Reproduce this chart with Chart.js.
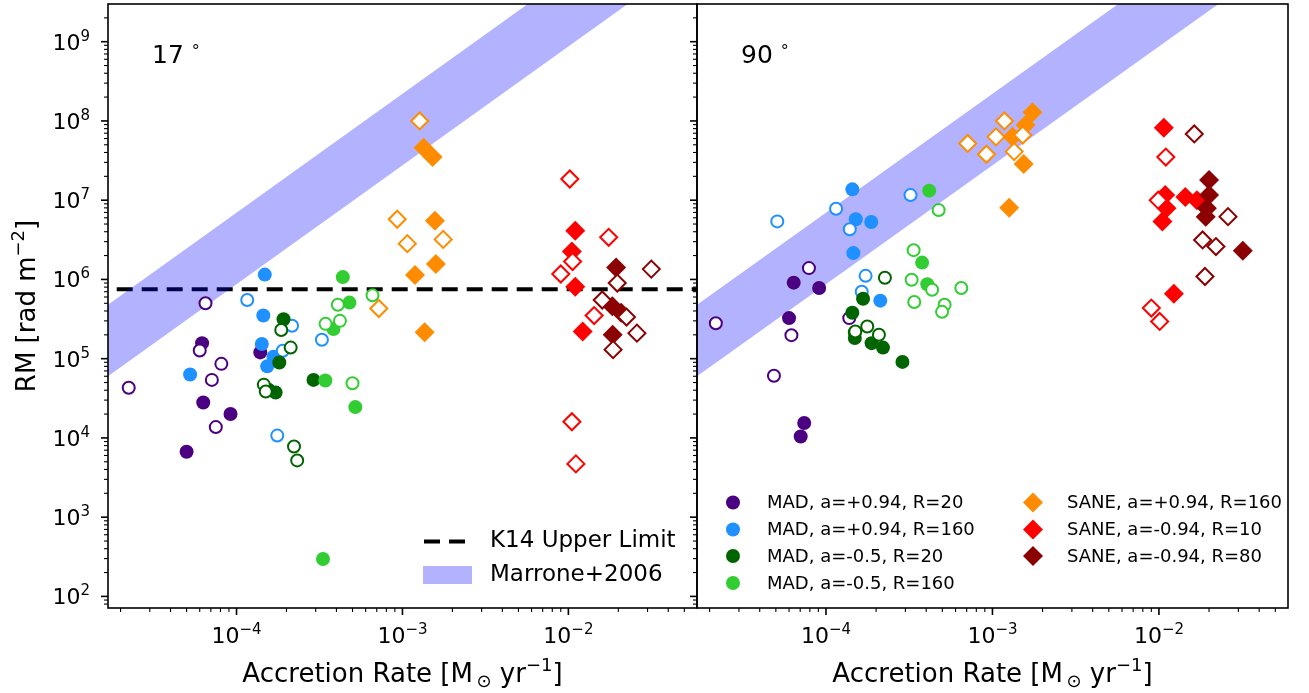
<!DOCTYPE html>
<html>
<head>
<meta charset="utf-8">
<script src="https://cdn.jsdelivr.net/npm/chart.js@4.4.1/dist/chart.umd.min.js"></script>
<style>
  body { margin: 0; background: #fff; width: 1309px; height: 693px; overflow: hidden; position: relative; }
  #c17 { position: absolute; left: 0; top: 0; }
  #c90 { position: absolute; left: 690px; top: 0; }
</style>
</head>
<body>
<canvas id="c17" width="698" height="693"></canvas>
<canvas id="c90" width="619" height="693"></canvas>
<script>
const FONT = '"DejaVu Sans", sans-serif';

// model labels / colours / marker shapes (legend order)
const modelLabels = ['MAD, a=+0.94, R=20', 'MAD, a=+0.94, R=160', 'MAD, a=-0.5, R=20', 'MAD, a=-0.5, R=160',
                     'SANE, a=+0.94, R=160', 'SANE, a=-0.94, R=10', 'SANE, a=-0.94, R=80'];
const modelColors = ['#4B0082', '#1E90FF', '#006400', '#32CD32', '#FF8C00', '#FF0000', '#8B0000'];
const modelShapes = ['circle', 'circle', 'circle', 'circle', 'rectRot', 'rectRot', 'rectRot'];

// axis ranges and tick labels (powers of ten)
const xRange = [1.68e-5, 5.96e-2];
const yRange = [71.4, 2.99e9];
const xTickExps = [-4, -3, -2];
const yTickExps = [2, 3, 4, 5, 6, 7, 8, 9];

// K14 upper limit and Marrone+2006 band edges
const k14Limit = 7.5e5;
const bandX = [1e-5, 1e-1];
const bandLow = [2.75e4, 2.75e10];
const bandHigh = [2.2e5, 2.2e11];

// ---- 17 degrees: [accretion rate, RM], f = filled, o = open ----
const mad1_17f = [[6.2e-5,1.57e5],[1.39e-4,1.2e5],[6.3e-5,2.8e4],[9.2e-5,2.0e4],[5.0e-5,6.7e3]];
const mad1_17o = [[6.5e-5,5.0e5],[6.0e-5,1.27e5],[8.1e-5,8.6e4],[7.1e-5,5.4e4],[2.24e-5,4.3e4],[7.5e-5,1.37e4]];
const mad2_17f = [[1.48e-4,1.15e6],[1.45e-4,3.5e5],[1.42e-4,1.53e5],[1.67e-4,1.06e5],[1.53e-4,8.0e4],[5.25e-5,6.3e4]];
const mad2_17o = [[1.16e-4,5.5e5],[2.16e-4,2.6e5],[1.9e-4,1.26e5],[3.27e-4,1.73e5],[1.76e-4,1.07e4]];
const mad3_17f = [[1.92e-4,3.15e5],[1.81e-4,8.95e4],[2.91e-4,5.4e4],[1.56e-4,4.05e4],[1.72e-4,3.74e4]];
const mad3_17o = [[1.86e-4,2.3e5],[2.12e-4,1.38e5],[1.46e-4,4.7e4],[1.5e-4,3.85e4],[2.22e-4,7.8e3],[2.32e-4,5.2e3]];
const mad4_17f = [[4.37e-4,1.07e6],[4.79e-4,5.1e5],[3.84e-4,2.36e5],[3.43e-4,5.3e4],[5.2e-4,2.45e4],[3.32e-4,297]];
const mad4_17o = [[6.6e-4,6.3e5],[4.08e-4,4.8e5],[4.2e-4,3.0e5],[3.44e-4,2.75e5],[5.0e-4,4.9e4]];
const sane1_17f = [[1.34e-3,4.6e7],[1.52e-3,3.5e7],[1.57e-3,5.5e6],[1.59e-3,1.56e6],[1.19e-3,1.14e6],[1.36e-3,2.16e5]];
const sane1_17o = [[1.27e-3,1.0e8],[9.3e-4,5.75e6],[1.07e-3,2.83e6],[1.76e-3,3.2e6],[7.2e-4,4.3e5]];
const sane2_17f = [[1.1e-2,4.1e6],[1.05e-2,2.25e6],[1.1e-2,8.1e5],[1.22e-2,2.2e5]];
const sane2_17o = [[1.02e-2,1.85e7],[1.06e-2,1.68e6],[9.0e-3,1.17e6],[1.43e-2,3.5e5],[1.05e-2,1.6e4],[1.11e-2,4.7e3],[1.75e-2,3.4e6]];
const sane3_17f = [[1.94e-2,1.41e6],[1.84e-2,4.6e5],[2.08e-2,3.8e5],[1.85e-2,2.0e5]];
const sane3_17o = [[3.16e-2,1.35e6],[1.97e-2,9.0e5],[1.6e-2,5.5e5],[2.24e-2,3.35e5],[2.59e-2,2.1e5],[1.86e-2,1.3e5]];

// ---- 90 degrees ----
const mad1_90f = [[6.4e-5,9.1e5],[9.1e-5,7.8e5],[6.0e-5,3.25e5],[7.4e-5,1.54e4],[7.05e-5,1.04e4]];
const mad1_90o = [[7.9e-5,1.39e6],[2.18e-5,2.8e5],[6.2e-5,1.98e5],[4.87e-5,6.1e4],[1.38e-4,3.25e5]];
const mad2_90f = [[1.44e-4,1.37e7],[1.51e-4,5.75e6],[1.87e-4,5.3e6],[1.46e-4,2.15e6],[2.12e-4,5.4e5]];
const mad2_90o = [[5.1e-5,5.4e6],[1.15e-4,7.8e6],[1.39e-4,4.3e6],[3.22e-4,1.16e7],[1.73e-4,1.11e6],[1.64e-4,7.0e5]];
const mad3_90f = [[1.67e-4,5.7e5],[1.44e-4,3.8e5],[1.49e-4,2.14e5],[1.49e-4,1.82e5],[1.88e-4,1.57e5],[2.2e-4,1.38e5],[2.88e-4,9.1e4]];
const mad3_90o = [[2.26e-4,1.05e6],[1.77e-4,2.55e5],[2.08e-4,2.0e5],[1.5e-4,2.2e5]];
const mad4_90f = [[4.17e-4,1.32e7],[3.78e-4,1.63e6],[4.06e-4,8.7e5]];
const mad4_90o = [[4.75e-4,7.5e6],[3.36e-4,2.34e6],[3.27e-4,9.9e5],[4.34e-4,7.4e5],[6.5e-4,7.8e5],[3.39e-4,5.2e5],[5.16e-4,4.8e5],[4.98e-4,3.9e5]];
const sane1_90f = [[1.74e-3,1.29e8],[1.58e-3,8.9e7],[1.32e-3,6.3e7],[1.54e-3,2.86e7],[1.26e-3,8.05e6]];
const sane1_90o = [[7.1e-4,5.2e7],[9.2e-4,3.8e7],[1.05e-3,6.3e7],[1.18e-3,1.0e8],[1.35e-3,4.1e7],[1.52e-3,6.65e7]];
const sane2_90f = [[1.07e-2,8.2e7],[1.09e-2,1.16e7],[1.44e-2,1.1e7],[1.11e-2,7.9e6],[1.05e-2,5.4e6],[1.23e-2,6.6e5],[1.69e-2,1.0e7]];
const sane2_90o = [[1.1e-2,3.5e7],[9.9e-3,1.0e7],[9.0e-3,4.35e5],[1.01e-2,2.95e5]];
const sane3_90f = [[2.0e-2,1.8e7],[2.0e-2,1.16e7],[1.94e-2,7.9e6],[1.91e-2,6.2e6],[3.19e-2,2.3e6]];
const sane3_90o = [[1.63e-2,6.85e7],[2.6e-2,6.2e6],[1.83e-2,3.15e6],[2.2e-2,2.6e6],[1.89e-2,1.09e6]];

const panel17 = [[mad1_17f, mad1_17o], [mad2_17f, mad2_17o], [mad3_17f, mad3_17o], [mad4_17f, mad4_17o],
                 [sane1_17f, sane1_17o], [sane2_17f, sane2_17o], [sane3_17f, sane3_17o]];
const panel90 = [[mad1_90f, mad1_90o], [mad2_90f, mad2_90o], [mad3_90f, mad3_90o], [mad4_90f, mad4_90o],
                 [sane1_90f, sane1_90o], [sane2_90f, sane2_90o], [sane3_90f, sane3_90o]];

const toXY = arr => arr.map(p => ({ x: p[0], y: p[1] }));

function markerSets(pairs) {
    const out = [];
    pairs.forEach((p, k) => {
        const diamond = modelShapes[k] === 'rectRot';
        out.push({
            label: modelLabels[k], data: toXY(p[0]), pointStyle: modelShapes[k],
            pointRadius: diamond ? 10 : 7, pointHoverRadius: diamond ? 10 : 7,
            backgroundColor: modelColors[k], borderColor: modelColors[k], borderWidth: 0,
            order: 100 - 2 * k
        });
        out.push({
            label: modelLabels[k] + ' (open)', data: toXY(p[1]), pointStyle: modelShapes[k],
            pointRadius: diamond ? 8.5 : 6, pointHoverRadius: diamond ? 8.5 : 6,
            backgroundColor: '#ffffff', borderColor: modelColors[k], borderWidth: 2,
            order: 99 - 2 * k
        });
    });
    return out;
}

function bandSets() {
    return [
        { type: 'line', label: 'band low', data: toXY(bandX.map((x, i) => [x, bandLow[i]])),
          borderColor: 'rgba(0,0,0,0)', borderWidth: 0, pointRadius: 0, fill: false, order: 200 },
        { type: 'line', label: 'Marrone+2006', data: toXY(bandX.map((x, i) => [x, bandHigh[i]])),
          borderColor: 'rgba(0,0,0,0)', borderWidth: 0, pointRadius: 0, fill: '-1',
          backgroundColor: 'rgba(0,0,255,0.3)', order: 199 }
    ];
}

// draw text runs with sub/superscripts: parts = [{t, s, dy}]
function drawRich(ctx, parts, x, y, align) {
    let w = 0;
    parts.forEach(p => { ctx.font = p.s + 'px ' + FONT; p.w = ctx.measureText(p.t).width; w += p.w; });
    let cx = align === 'center' ? x - w / 2 : (align === 'right' ? x - w : x);
    ctx.textAlign = 'left';
    ctx.textBaseline = 'alphabetic';
    parts.forEach(p => {
        ctx.font = p.s + 'px ' + FONT;
        ctx.fillText(p.t, cx, y + (p.dy || 0));
        cx += p.w;
    });
}

const pow10 = e => [{ t: '10', s: 22 }, { t: (e < 0 ? '\u2212' + (-e) : String(e)), s: 15, dy: -9 }];

function marker(ctx, shape, x, y, r, color) {
    ctx.fillStyle = color;
    ctx.beginPath();
    if (shape === 'circle') {
        ctx.arc(x, y, r, 0, Math.PI * 2);
    } else {
        ctx.moveTo(x, y - r); ctx.lineTo(x + r, y); ctx.lineTo(x, y + r); ctx.lineTo(x - r, y);
        ctx.closePath();
    }
    ctx.fill();
}

const axesPlugin = {
    id: 'axesPlugin',
    afterDraw(chart, args, opts) {
        const ctx = chart.ctx, a = chart.chartArea;
        const xs = chart.scales.x, ys = chart.scales.y;
        ctx.save();
        ctx.strokeStyle = '#000';
        ctx.fillStyle = '#000';

        // log ticks, outward
        for (let e = -6; e <= 0; e++) {
            for (let m = 1; m <= 9; m++) {
                const v = m * Math.pow(10, e);
                if (v < xRange[0] || v > xRange[1]) continue;
                const px = xs.getPixelForValue(v);
                ctx.lineWidth = m === 1 ? 1.6 : 1.1;
                ctx.beginPath(); ctx.moveTo(px, a.bottom); ctx.lineTo(px, a.bottom + (m === 1 ? 7 : 4)); ctx.stroke();
            }
        }
        for (let e = 1; e <= 10; e++) {
            for (let m = 1; m <= 9; m++) {
                const v = m * Math.pow(10, e);
                if (v < yRange[0] || v > yRange[1]) continue;
                const py = ys.getPixelForValue(v);
                ctx.lineWidth = m === 1 ? 1.6 : 1.1;
                ctx.beginPath(); ctx.moveTo(a.left, py); ctx.lineTo(a.left - (m === 1 ? 7 : 4), py); ctx.stroke();
            }
        }

        // frame
        ctx.lineWidth = 1.6;
        ctx.strokeRect(a.left, a.top, a.right - a.left, a.bottom - a.top);

        // tick labels
        xTickExps.forEach(e => drawRich(ctx, pow10(e), xs.getPixelForValue(Math.pow(10, e)), a.bottom + 35, 'center'));
        if (opts.yLabels) {
            yTickExps.forEach(e => drawRich(ctx, pow10(e), a.left - 18, ys.getPixelForValue(Math.pow(10, e)) + 8, 'right'));
            ctx.save();
            ctx.translate(35, (a.top + a.bottom) / 2);
            ctx.rotate(-Math.PI / 2);
            drawRich(ctx, [{ t: 'RM [rad m', s: 26 }, { t: '\u22122', s: 18, dy: -11 }, { t: ']', s: 26 }], 0, 0, 'center');
            ctx.restore();
        }
        drawRich(ctx, [{ t: 'Accretion Rate [M', s: 26 }, { t: '\u2009\u2299', s: 18, dy: 5 }, { t: ' yr', s: 26 },
                       { t: '\u22121', s: 18, dy: -11 }, { t: ']', s: 26 }], (a.left + a.right) / 2, 682, 'center');

        // panel angle
        drawRich(ctx, [{ t: opts.angle, s: 25 }, { t: ' ', s: 25 }, { t: '\u00b0', s: 16, dy: -7 }], a.left + 44, a.top + 59, 'left');

        // legends
        if (opts.legend === 'obs') {
            ctx.lineWidth = 4;
            ctx.setLineDash([16, 9]);
            ctx.beginPath(); ctx.moveTo(a.left + 316, 541.5); ctx.lineTo(a.left + 358, 541.5); ctx.stroke();
            ctx.setLineDash([]);
            ctx.fillStyle = 'rgba(0,0,255,0.3)';
            ctx.fillRect(a.left + 315, 566, 49, 18);
            ctx.fillStyle = '#000';
            ctx.font = '23px ' + FONT;
            ctx.textAlign = 'left';
            ctx.textBaseline = 'middle';
            ctx.fillText('K14 Upper Limit', a.left + 382, 541.5);
            ctx.fillText('Marrone+2006', a.left + 382, 575);
        } else if (opts.legend === 'models') {
            const rows = [502.5, 529.5, 556, 583];
            ctx.font = '18px ' + FONT;
            ctx.textAlign = 'left';
            ctx.textBaseline = 'middle';
            modelLabels.forEach((lab, k) => {
                const col = k < 4 ? 0 : 1;
                const row = k < 4 ? k : k - 4;
                const mx = a.left + (col === 0 ? 36 : 336);
                marker(ctx, modelShapes[k], mx, rows[row], modelShapes[k] === 'circle' ? 7 : 10, modelColors[k]);
                ctx.fillStyle = '#000';
                ctx.fillText(lab, mx + 34, rows[row] + 1);
            });
        }
        ctx.restore();
    }
};

function makeChart(id, datasets, opts, yWidth, padRight) {
    return new Chart(document.getElementById(id), {
        type: 'scatter',
        data: { datasets },
        options: {
            responsive: false,
            animation: false,
            devicePixelRatio: 1,
            layout: { autoPadding: false, padding: { left: 0, right: padRight, top: 4, bottom: 0 } },
            scales: {
                x: {
                    type: 'logarithmic', min: xRange[0], max: xRange[1],
                    grid: { display: false }, ticks: { display: false }, border: { display: false },
                    afterFit: s => { s.height = 85; }
                },
                y: {
                    type: 'logarithmic', min: yRange[0], max: yRange[1],
                    grid: { display: false }, ticks: { display: false }, border: { display: false },
                    afterFit: s => { s.width = yWidth; }
                }
            },
            plugins: {
                legend: { display: false },
                tooltip: { enabled: false },
                axesPlugin: opts
            }
        },
        plugins: [axesPlugin]
    });
}

const sets17 = bandSets().concat([{
    type: 'line', label: 'K14 Upper Limit',
    data: toXY([[xRange[0], k14Limit], [xRange[1], k14Limit]]),
    borderColor: '#000', borderWidth: 4, borderDash: [16, 9], borderDashOffset: 16.3,
    pointRadius: 0, fill: false, order: 300
}]).concat(markerSets(panel17));

const sets90 = bandSets().concat(markerSets(panel90));

makeChart('c17', sets17, { yLabels: true, angle: '17', legend: 'obs' }, 108, 1);
makeChart('c90', sets90, { yLabels: false, angle: '90', legend: 'models' }, 7, 21);
</script>
</body>
</html>
